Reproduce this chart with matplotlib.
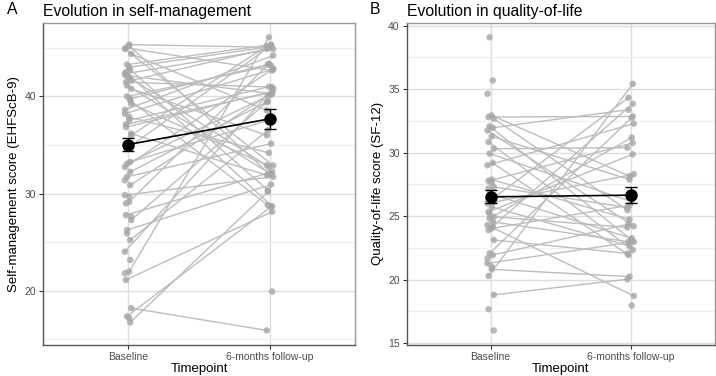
import numpy as np
import matplotlib.pyplot as plt

plt.rcParams['font.family'] = ['Liberation Sans', 'DejaVu Sans']

nan = np.nan
timepoints = ['Baseline', '6-months follow-up']

# self-management (EHFScB-9), one row per participant, nan = missing
sm_baseline = [45.33, 44.99, 44.38, 43.28, 42.74, 42.32, 41.98, 41.47, 40.79, 40.0,
               39.59, 38.63, 37.88, 37.13, 36.17, 34.63, 33.26, 32.75,
               45.23, 42.15, 39.25, 31.73, 30.87, 29.85, 29.16, 27.79, 27.28, 26.26,
               25.23, 24.03, 21.98, 21.13, 18.22, 17.37, 16.75,
               44.89, 43.01, 42.5, 41.64, 41.13, 39.76, 38.22, 37.54, 36.85, 36.0,
               33.09, 32.24,
               31.38, 29.68, 28.99, 27.62, 25.91, 23.18, 21.81, 17.2,
               nan]
sm_followup = [45.06, 42.67, 38.56, 45.33, 30.36, 44.89, 32.75, 40.96, 36.0, 43.18,
               28.82, 44.2, 34.19, 40.44, 31.9, 45.23, 37.54, 42.84,
               32.07, 40.27, 32.92, 35.15, 40.1, 31.73, 43.35, 32.24, 39.42, 30.94,
               36.51, 40.79, 46.09, 28.14, 15.93, 28.65, 30.19,
               32.9, 45.1, 28.7, 44.9, 32.0, 43.3, 42.8, 41.0, 40.5, 45.2,
               40.2, 39.5,
               nan, nan, nan, nan, nan, nan, nan, nan,
               19.93]
sm_mean = [35.05, 37.7]
sm_se = [0.7, 1.0]

# quality of life (SF-12)
ql_baseline = [32.93, 32.80, 32.67, 32.07, 31.96, 31.75, 31.28, 30.84, 30.31, 29.92,
               29.19, 29.01, 27.88, 27.77, 27.30, 26.78, 26.39, 25.99, 25.73, 25.34,
               24.95, 24.82, 24.55, 24.29, 24.03, 23.90, 23.12, 22.07, 21.94, 21.28,
               20.81, 20.29, 18.80,
               39.08, 35.68, 34.63, 27.62, 27.17, 26.13, 25.21, 24.16, 21.68, 21.02,
               17.67, 16.0, nan]
ql_followup = [28.14, 32.85, 25.47, 23.12, 33.38, 24.21, 27.88, 22.33, 30.39, 26.13,
               21.94, 32.28, 24.74, 30.76, 25.68, 23.25, 34.32, 28.30, 22.64, 29.87,
               24.11, 31.18, 22.98, 18.72, 25.86, 33.85, 22.07, 32.75, 24.37, 22.98,
               20.24, 35.42, 20.03,
               nan, nan, nan, nan, nan, nan, nan, nan, nan, nan,
               nan, nan, 17.96]
ql_mean = [26.52, 26.65]
ql_se = [0.52, 0.65]

fig = plt.figure(figsize=(7.16, 3.76), dpi=100)
ax1 = fig.add_axes([0.060, 0.083, 0.436, 0.857])
ax2 = fig.add_axes([0.568, 0.083, 0.430, 0.857])


def panel(ax, base, follow, mean, se, ylim, major, minor, tag, title, ylabel, tag_x):
    base = np.array(base)
    follow = np.array(follow)
    n = len(base)
    jit = np.array([(-1) ** i * 0.015 * ((i % 3) + 1) / 2 for i in range(n)])
    x0 = 1 + jit
    x1 = 2 - jit
    for i in range(n):
        if not np.isnan(base[i]) and not np.isnan(follow[i]):
            ax.plot([x0[i], x1[i]], [base[i], follow[i]], color='#BDBDBD', lw=1.0, zorder=2)
    ax.scatter(x0, base, s=22, color='#A6A6A6', alpha=0.8, edgecolors='none', zorder=3)
    ax.scatter(x1, follow, s=22, color='#A6A6A6', alpha=0.8, edgecolors='none', zorder=3)
    ax.plot([1, 2], mean, color='black', lw=1.2, zorder=4)
    ax.errorbar([1, 2], mean, yerr=se, fmt='o', color='black', ms=8,
                capsize=4, elinewidth=1.0, capthick=1.0, zorder=5)

    ax.set_xlim(0.4, 2.6)
    ax.set_ylim(*ylim)
    ax.set_xticks([1, 2])
    ax.set_xticklabels(timepoints)
    ax.set_yticks(major)
    ax.set_yticks(minor, minor=True)
    ax.grid(True, which='major', color='#DEDEDE', lw=1.0, zorder=0)
    ax.grid(True, which='minor', axis='y', color='#EFEFEF', lw=0.8, zorder=0)
    ax.set_axisbelow(True)
    for k in ['top', 'right']:
        ax.spines[k].set_color('#9A9A9A')
        ax.spines[k].set_linewidth(1.0)
    for k in ['left', 'bottom']:
        ax.spines[k].set_color('#555555')
        ax.spines[k].set_linewidth(1.0)
    ax.tick_params(axis='both', which='major', labelsize=7.5, labelcolor='#4D4D4D',
                   color='#333333', length=3, width=0.8, pad=2)
    ax.tick_params(axis='y', which='minor', length=0)
    ax.set_xlabel('Timepoint', fontsize=9.5, labelpad=1)
    ax.set_ylabel(ylabel, fontsize=9.5, labelpad=3)
    ax.set_title(title, fontsize=11.3, loc='left', pad=5)
    fig.text(tag_x, 0.962, tag, fontsize=11.3, va='baseline')


panel(ax1, sm_baseline, sm_followup, sm_mean, sm_se, (14.45, 47.6),
      [20, 30, 40], [15, 25, 35, 45], 'A', 'Evolution in self-management',
      'Self-management score (EHFScB-9)', 0.010)
panel(ax2, ql_baseline, ql_followup, ql_mean, ql_se, (14.87, 40.24),
      [15, 20, 25, 30, 35, 40], [17.5, 22.5, 27.5, 32.5, 37.5], 'B',
      'Evolution in quality-of-life', 'Quality-of-life score (SF-12)', 0.516)

fig.savefig('out.png', dpi=100)
